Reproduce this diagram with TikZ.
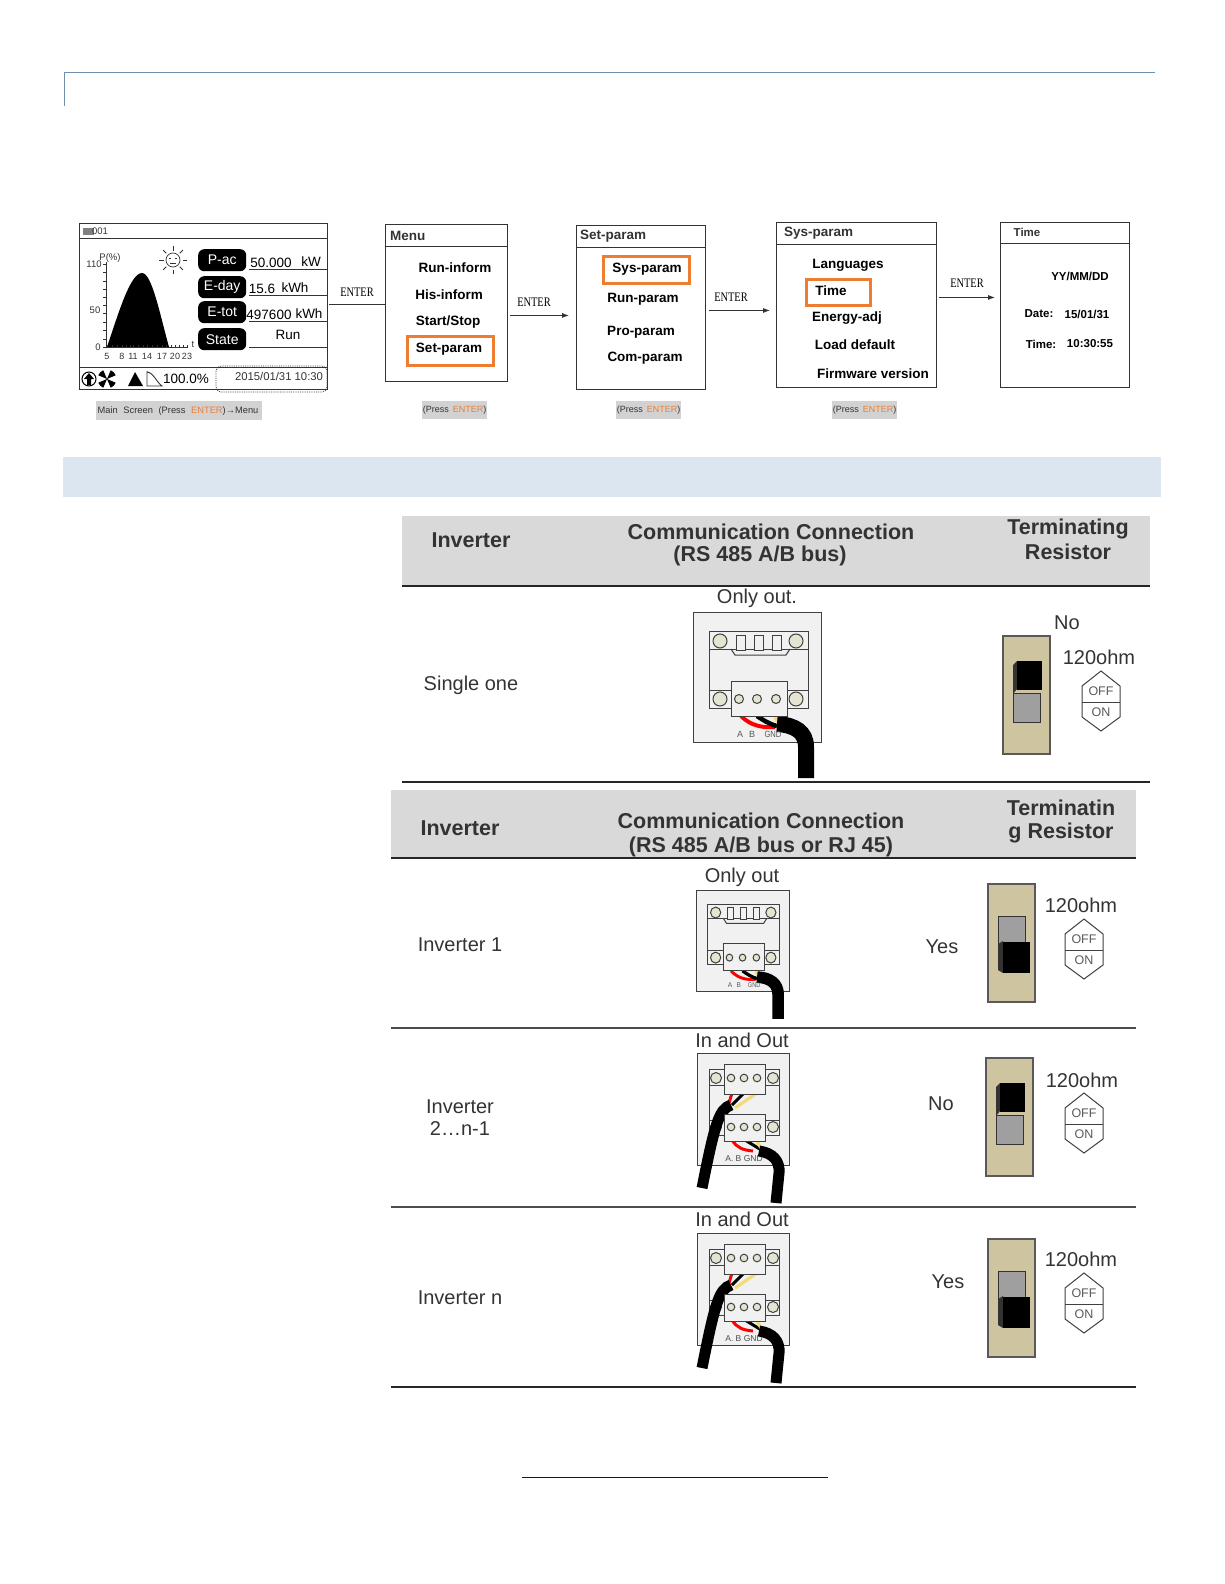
\documentclass[tikz,border=0pt]{standalone}
\usepackage{fontspec}
\setmainfont{Liberation Sans}
\newfontfamily\serifenter{Liberation Serif}
\usetikzlibrary{arrows.meta,shapes.geometric}
\definecolor{orng}{HTML}{ED7D31}
\definecolor{capgrey}{HTML}{D2D2D2}
\definecolor{hdrgrey}{HTML}{D9D9D9}
\definecolor{barblue}{HTML}{DCE6F1}
\definecolor{tan}{HTML}{CFC4A0}
\definecolor{ink}{HTML}{333333}
\definecolor{boardfill}{HTML}{F1F1F1}
\definecolor{holefill}{HTML}{E4E4D0}
\definecolor{wyellow}{HTML}{F2DC7A}
\definecolor{headrule}{HTML}{6F8FAF}
\newcommand{\fs}[1]{\fontsize{#1}{#1}\selectfont}
\tikzset{
  screenbox/.style={draw=ink,line width=0.9pt,inner sep=0,anchor=north west},
  hline/.style={draw=ink,line width=0.9pt},
  menutxt/.style={inner sep=0,font=\fs{13.5}\bfseries,text=black},
  titletxt/.style={inner sep=0,anchor=west,font=\fs{13.5}\bfseries,text=ink},
  orangebox/.style={draw=orng,line width=3pt,inner sep=0,anchor=north west},
  entertxt/.style={inner sep=0,font=\serifenter\fs{13},xscale=.8,text=black},
  flow/.style={draw=ink,line width=0.8pt},
  flowarrow/.style={flow,-{Latex[length=7pt,width=5pt]}},
  captionbox/.style={fill=capgrey,inner sep=0,anchor=north west},
  captxt/.style={inner sep=0,font=\fs{9.3},text=ink},
  pill/.style={fill=black,rounded corners=6pt,inner sep=0,anchor=north west,text=white,font=\fs{14}},
  valtxt/.style={inner sep=0,font=\fs{13.5},text=black},
  rule/.style={draw=black!85,line width=1.6pt},
  hdrbold/.style={inner sep=0,font=\fs{21.5}\bfseries,text=ink},
  bodytxt/.style={inner sep=0,font=\fs{20},text=ink},
  timetxt/.style={inner sep=0,font=\fs{11.5}\bfseries,text=black},
  tick/.style={draw=ink,line width=0.7pt},
  boardline/.style={draw=black!75,line width=1pt},
}
% switch: black slider up (OFF)
\newcommand{\switchoff}[2]{\begin{scope}[shift={(#1,#2)}]
  \fill[tan,draw=black!65,line width=1.1pt] (0,0) rectangle (47,118);
  \fill[gray!75,draw=black!80,line width=1pt] (10,57) rectangle (37,86);
  \fill[black!80] (10,29) -- (14,25) -- (14,53) -- (10,58) -- cycle;
  \fill[black] (14,25) rectangle (39,54);
\end{scope}}
% switch: black slider down (ON)
\newcommand{\switchon}[2]{\begin{scope}[shift={(#1,#2)}]
  \fill[tan,draw=black!65,line width=1.1pt] (0,0) rectangle (47,118);
  \fill[gray!75,draw=black!80,line width=1pt] (10,32) rectangle (37,60);
  \fill[black!80] (10,60) -- (15,57) -- (15,89) -- (10,86) -- cycle;
  \fill[black] (15,58) rectangle (42,89);
\end{scope}}
% OFF/ON hexagon
\newcommand{\hexsw}[2]{\begin{scope}[shift={(#1,#2)}]
  \draw[black!75,line width=1pt] (0,-30) -- (19,-15) -- (19,16) -- (0,30) -- (-19,16) -- (-19,-15) -- cycle;
  \draw[black!75,line width=1pt] (-19,1) -- (19,1);
  \node[inner sep=0,font=\fs{12.5},text=black!65] at (0,-10) {OFF};
  \node[inner sep=0,font=\fs{12.5},text=black!65] at (0,11) {ON};
\end{scope}}
% board with one terminal (reference size 128 wide)
\newcommand{\boardout}[4]{\begin{scope}[shift={(#1,#2)},xscale=#3,yscale=#4]
  \fill[boardfill,boardline] (0,0) rectangle (128,130);
  \draw[boardline] (16,19) rectangle (115,37);
  \draw[boardline] (16,37) -- (16,78) (115,37) -- (115,78);
  \draw[boardline] (38,37) -- (42,43) -- (93,43) -- (97,37);
  \draw[boardline] (16,78) rectangle (115,96);
  \foreach \hx/\hy in {27/29,103/29,27/87,103/87}
    \fill[holefill,boardline] (\hx,\hy) circle (7);
  \foreach \rx in {43,61,79}
    \fill[boardfill,boardline] (\rx,23) rectangle (\rx+9,38);
  \draw[red,line width={4pt*#3}] (48,104) .. controls (58,114) and (70,116) .. (82,115);
  \draw[black,line width={4.5pt*#3}] (64,104) .. controls (70,108) and (76,112) .. (84,114);
  \draw[wyellow,line width={4pt*#3}] (82,105) -- (87,113);
  \draw[black,line width={16pt*#3}] (84,112) .. controls (102,113) and (113,120) .. (113,135) -- (113,166);
  \fill[boardfill,boardline] (38,69) rectangle (94,104);
  \foreach \cx in {46,64,83}
    \fill[holefill,boardline] (\cx,87) circle (4.5);
  \node[inner sep=0,font=\fs{9},text=black!65,transform shape] at (47,122) {A};
  \node[inner sep=0,font=\fs{9},text=black!65,transform shape] at (59,122) {B};
  \node[inner sep=0,font=\fs{9},xscale=.85,text=black!65,transform shape] at (80,122) {GND};
\end{scope}}
% board with two terminals
\newcommand{\boardinout}[2]{\begin{scope}[shift={(#1,#2)}]
  \fill[boardfill,boardline] (0,0) rectangle (92,112);
  \draw[boardline] (12,16) rectangle (82,32);
  \draw[boardline] (12,32) -- (12,67) (82,32) -- (82,67);
  \draw[boardline] (12,67) rectangle (82,82);
  \foreach \hx/\hy in {19/25,76/25,19/74,76/74}
    \fill[holefill,boardline] (\hx,\hy) circle (5.5);
  \draw[red,line width=3pt] (35,40) -- (32,50);
  \draw[black,line width=3pt] (47,40) -- (35,52);
  \draw[wyellow,line width=3.2pt] (60,40) -- (38,55);
  \draw[black,line width=11pt] (34,52) .. controls (22,56) and (18,70) .. (5,135);
  \fill[boardfill,boardline] (27,11) rectangle (68,41);
  \draw[red,line width=3pt] (35,87) .. controls (40,95) and (46,97) .. (56,98);
  \draw[black,line width=3pt] (48,87) -- (66,98);
  \draw[wyellow,line width=3.2pt] (60,88) -- (65,97);
  \fill[boardfill,boardline] (27,61) rectangle (68,88);
  \foreach \cx in {34,47,60}{
    \fill[holefill,boardline] (\cx,25) circle (3.8);
    \fill[holefill,boardline] (\cx,74) circle (3.8);}
  \node[inner sep=0,font=\fs{8.5},text=black!70] at (47,106) {A. B GND};
  \draw[black,line width=11pt] (62,98) .. controls (76,100) and (83,108) .. (82,120) -- (79,150);
\end{scope}}
\begin{document}
\begin{tikzpicture}[x=1pt,y=-1pt]
\useasboundingbox (0,0) rectangle (1224,1584);
% page header rule
\draw[draw=headrule,line width=0.9pt] (1155,72) -- (64,72) -- (64,106);
% ---------- main screen ----------
\node[screenbox,minimum width=248pt,minimum height=166pt] (screen) at (79,223) {};
\draw[hline] (79,238) -- (327,238) (79,367) -- (327,367);
\fill[gray] (83,228) rectangle (94,235);
\node[inner sep=0,font=\fs{9.5},text=ink] (idno) at (100,231.5) {001};
% chart
\fill[black] (107,347) .. controls (118,315) and (130,273) .. (142,273) .. controls (152,273) and (160,315) .. (169,347) -- cycle;
\draw[tick] (106,262) -- (106,347) -- (188,347);
\foreach \ty in {264,272,281,289,297,305,313,322,330,339,347} \draw[tick] (103,\ty) -- (106,\ty);
\foreach \tx in {107,112,117,122,126,130,133,138,143,147,152,157,162,166,171,175,179,183,187} \draw[tick] (\tx,345) -- (\tx,347);
\node[inner sep=0,font=\fs{9.5},text=ink] (pct) at (110,258) {P(\%)};
\node[inner sep=0,font=\fs{9.5},text=ink] (y110) at (94,264) {110};
\node[inner sep=0,font=\fs{9.5},text=ink] (y50) at (95,310) {50};
\node[inner sep=0,font=\fs{9.5},text=ink] (y0) at (98,347) {0};
\node[inner sep=0,font=\fs{9.5},text=ink] (tlab) at (193,344) {t};
\foreach \xx/\xl in {107/5,122/8,133/11,147/14,162/17,175/20,187/23}
  \node[inner sep=0,font=\fs{9},text=ink] at (\xx,356) {\xl};
% sun
\draw[ink,line width=0.7pt] (173,260) circle (7);
\foreach \ang in {0,45,...,315} \draw[ink,line width=0.8pt] (173,260) ++(\ang:9.5) -- ++(\ang:4.5);
\draw[ink,line width=0.5pt] (169,258) -- (171,258) (175,258) -- (177,258) (170,263) -- (176,263);
% readouts
\node[pill,minimum width=48pt,minimum height=22pt] (pac) at (198,249) {P-ac};
\node[pill,minimum width=48pt,minimum height=22pt] (eday) at (198,276) {E-day};
\node[pill,minimum width=48pt,minimum height=22pt] (etot) at (198,301) {E-tot};
\node[pill,minimum width=48pt,minimum height=22pt] (state) at (198,328) {State};
\draw[hline] (249,269) -- (327,269) (249,295) -- (327,295) (249,321) -- (327,321) (249,347) -- (327,347);
\node[valtxt] (v1) at (271,263) {50.000};
\node[valtxt] (u1) at (311,262) {kW};
\node[valtxt] (v2) at (262,289) {15.6};
\node[valtxt] (u2) at (295,288) {kWh};
\node[valtxt] (v3) at (269,315) {497600};
\node[valtxt] (u3) at (309,314) {kWh};
\node[valtxt] (v4) at (288,335) {Run};
% status bar
\draw[black,line width=1pt] (89,379) circle (7);
\fill[black] (89,373) -- (94,379) -- (91,379) -- (91,385) -- (87,385) -- (87,379) -- (84,379) -- cycle;
\foreach \ang in {45,135,225,315} \fill[black] (107,379) -- ++(\ang-22:9.5) arc (\ang-22:\ang+22:9.5) -- cycle;
\fill[black] (135,372) -- (143,386) -- (128,386) -- cycle;
\draw[ink,line width=0.9pt] (147,371) -- (147,386) -- (162,386) .. controls (158,384) and (153,372) .. (147,372);
\node[inner sep=0,font=\fs{13.5},text=black] (pctv) at (186,379) {100.0\%};
\draw[ink,line width=0.8pt,densely dotted,rounded corners=5pt] (216,366) rectangle (327,392);
\node[inner sep=0,font=\fs{11.3},text=ink] (dt) at (279,376) {2015/01/31 10:30};
\node[captionbox,minimum width=166pt,minimum height=19pt] (cap1) at (96,401) {};
\node[captxt] (cap1t) at (178,411) {Main\,\, Screen\,\, (Press\,\, \textcolor{orng}{ENTER})→Menu};
% ---------- menu ----------
\node[screenbox,minimum width=122pt,minimum height=157pt] (menu) at (385,224) {};
\draw[hline] (385,246) -- (507,246);
\node[titletxt] (menut) at (390,235.5) {Menu};
\node[menutxt] (m1) at (455,268) {Run-inform};
\node[menutxt] (m2) at (449,295) {His-inform};
\node[menutxt] (m3) at (448,322.5) {Start/Stop};
\node[orangebox,minimum width=86pt,minimum height=29pt] (m4box) at (406,335) {};
\node[menutxt] (m4) at (449,349) {Set-param};
\node[captionbox,minimum width=65pt,minimum height=18pt] (cap2) at (422,401) {};
\node[captxt,font=\fs{9}] (cap2t) at (454.5,410) {(Press\, \textcolor{orng}{ENTER})};
% ---------- set-param ----------
\node[screenbox,minimum width=129pt,minimum height=164pt] (setp) at (576,225) {};
\draw[hline] (576,247) -- (705,247);
\node[titletxt] (setpt) at (580,236.5) {Set-param};
\node[orangebox,minimum width=86pt,minimum height=27pt] (s1box) at (602,255) {};
\node[menutxt] (s1) at (647,269) {Sys-param};
\node[menutxt] (s2) at (643,299.5) {Run-param};
\node[menutxt] (s3) at (641,332) {Pro-param};
\node[menutxt] (s4) at (645,358.5) {Com-param};
\node[captionbox,minimum width=65pt,minimum height=18pt] (cap3) at (616,401) {};
\node[captxt,font=\fs{9}] (cap3t) at (648.5,410) {(Press\, \textcolor{orng}{ENTER})};
% ---------- sys-param ----------
\node[screenbox,minimum width=160pt,minimum height=165pt] (sysp) at (776,222) {};
\draw[hline] (776,244) -- (936,244);
\node[titletxt] (syspt) at (784,233) {Sys-param};
\node[menutxt] (y1) at (848,265.5) {Languages};
\node[orangebox,minimum width=64pt,minimum height=26pt] (y2box) at (805,278) {};
\node[menutxt] (y2) at (831,290.5) {Time};
\node[menutxt] (y3) at (847,318.5) {Energy-adj};
\node[menutxt] (y4) at (855,345) {Load default};
\node[menutxt] (y5) at (873,374) {Firmware version};
\node[captionbox,minimum width=65pt,minimum height=18pt] (cap4) at (832,401) {};
\node[captxt,font=\fs{9}] (cap4t) at (864.5,410) {(Press\, \textcolor{orng}{ENTER})};
% ---------- time ----------
\node[screenbox,minimum width=129pt,minimum height=165pt] (timebox) at (1000,222) {};
\draw[hline] (1000,243) -- (1129,243);
\node[inner sep=0,font=\fs{11.5}\bfseries,text=ink] (timet) at (1027,232) {Time};
\node[timetxt] (t1) at (1080,276) {YY/MM/DD};
\node[timetxt] (t2) at (1039,314) {Date:};
\node[timetxt] (t3) at (1087,314) {15/01/31};
\node[timetxt] (t4) at (1041,344) {Time:};
\node[timetxt] (t5) at (1090,344) {10:30:55};
% ---------- flow connectors ----------
\draw[flow] ([xshift=1pt,yshift=2pt]screen.east) -- ([yshift=-1.5pt]menu.west);
\draw[flowarrow] ([xshift=2pt,yshift=-12.5pt]menu.east) -- ([xshift=-7pt,yshift=-8pt]setp.west);
\draw[flowarrow] ([xshift=3pt,yshift=-3pt]setp.east) -- ([xshift=-6pt,yshift=-5.5pt]sysp.west);
\draw[flowarrow] ([xshift=2pt,yshift=7.5pt]sysp.east) -- ([xshift=-5pt,yshift=7.5pt]timebox.west);
\node[entertxt] (e1) at (357,292) {ENTER};
\node[entertxt] (e2) at (534,302) {ENTER};
\node[entertxt] (e3) at (731,297) {ENTER};
\node[entertxt] (e4) at (967,283) {ENTER};
% ---------- section bar ----------
\fill[barblue] (63,457) rectangle (1161,497);
% ---------- table 1 ----------
\fill[hdrgrey] (402,516) rectangle (1150,585);
\draw[rule] (402,586) -- (1150,586);
\draw[rule] (402,782) -- (1150,782);
\node[hdrbold] (h1a) at (471,540) {Inverter};
\node[hdrbold] (h1b) at (771,532) {Communication Connection};
\node[hdrbold] (h1c) at (760,556) {(RS 485 A/B bus)};
\node[hdrbold] (h1d) at (1068,529) {Terminating};
\node[hdrbold] (h1e) at (1068,552) {Resistor};
\node[bodytxt] (r1a) at (471,685) {Single one};
\node[bodytxt] (r1b) at (757,598) {Only out.};
\boardout{693}{612}{1}{1}
\switchoff{1003}{636}
\hexsw{1101}{701}
\node[bodytxt] (r1c) at (1067,623) {No};
\node[bodytxt] (r1d) at (1099,657) {120ohm};
% ---------- table 2 ----------
\fill[hdrgrey] (391,790) rectangle (1136,857);
\draw[rule] (391,858) -- (1136,858);
\draw[rule,black!70] (391,1028) -- (1136,1028);
\draw[rule,black!70] (391,1207) -- (1136,1207);
\draw[rule] (391,1387) -- (1136,1387);
\node[hdrbold] (h2a) at (460,828) {Inverter};
\node[hdrbold] (h2b) at (761,821) {Communication Connection};
\node[hdrbold] (h2c) at (761,847) {(RS 485 A/B bus or RJ 45)};
\node[hdrbold] (h2d) at (1061,808) {Terminatin};
\node[hdrbold] (h2e) at (1061,833) {g Resistor};
% row inverter 1
\node[bodytxt] (r2a) at (460,945) {Inverter 1};
\node[bodytxt] (r2b) at (742,877) {Only out};
\boardout{696}{890}{.727}{.777}
\node[bodytxt] (r2c) at (942,947) {Yes};
\switchon{988}{884}
\node[bodytxt] (r2d) at (1081,905) {120ohm};
\hexsw{1084}{949}
% row inverter 2..n-1
\node[bodytxt] (r3a) at (460,1107) {Inverter};
\node[bodytxt] (r3a2) at (460,1129) {2…n-1};
\node[bodytxt] (r3b) at (742,1040) {In and Out};
\boardinout{697}{1053}
\node[bodytxt] (r3c) at (941,1104) {No};
\switchoff{986}{1058}
\node[bodytxt] (r3d) at (1082,1080) {120ohm};
\hexsw{1084}{1123}
% row inverter n
\node[bodytxt] (r4a) at (460,1298) {Inverter n};
\node[bodytxt] (r4b) at (742,1219) {In and Out};
\boardinout{697}{1233}
\node[bodytxt] (r4c) at (948,1282) {Yes};
\switchon{988}{1239}
\node[bodytxt] (r4d) at (1081,1259) {120ohm};
\hexsw{1084}{1303}
% footer link underline
\draw[draw=blue!85!black,line width=1pt] (522,1477) -- (828,1477);
\end{tikzpicture}
\end{document}
